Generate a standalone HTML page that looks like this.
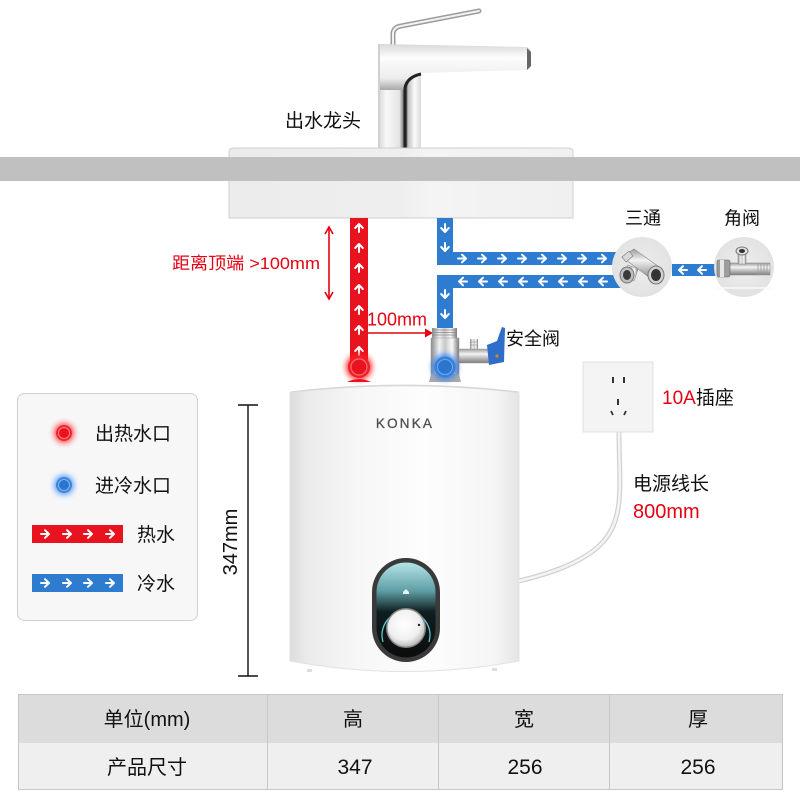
<!DOCTYPE html>
<html><head><meta charset="utf-8">
<style>
html,body{margin:0;padding:0;background:#fff;}
svg{display:block;}
text{font-family:"Liberation Sans","Noto Sans CJK SC",sans-serif;}
</style></head>
<body>
<svg width="800" height="800" viewBox="0 0 800 800" xmlns="http://www.w3.org/2000/svg">
<defs>
  <g id="ar"><path d="M-4,0 H3.5 M0,-3.8 L4,0 L0,3.8" stroke="#fff" stroke-width="2" fill="none" stroke-linecap="round" stroke-linejoin="round"/></g>
  <filter id="glow" x="-1" y="-1" width="3" height="3"><feGaussianBlur stdDeviation="3"/></filter>
  <linearGradient id="metalH" x1="0" x2="1" y1="0" y2="0">
    <stop offset="0" stop-color="#8a8a8a"/><stop offset=".3" stop-color="#f2f2f2"/><stop offset=".5" stop-color="#c8c8c8"/><stop offset=".75" stop-color="#fafafa"/><stop offset="1" stop-color="#7a7a7a"/>
  </linearGradient>
  <linearGradient id="metalV" x1="0" x2="0" y1="0" y2="1">
    <stop offset="0" stop-color="#9a9a9a"/><stop offset=".35" stop-color="#f4f4f4"/><stop offset=".6" stop-color="#c4c4c4"/><stop offset="1" stop-color="#7c7c7c"/>
  </linearGradient>
  <linearGradient id="colG" x1="0" x2="1" y1="0" y2="0">
    <stop offset="0" stop-color="#d5d5d5"/><stop offset=".2" stop-color="#f8f8f8"/><stop offset=".5" stop-color="#e4e4e4"/><stop offset=".58" stop-color="#8a8a8a"/><stop offset=".64" stop-color="#2a2a2a"/><stop offset=".7" stop-color="#c0c0c0"/><stop offset=".85" stop-color="#fbfbfb"/><stop offset="1" stop-color="#dadada"/>
  </linearGradient>
  <linearGradient id="spoutG" x1="0" x2="0" y1="0" y2="1">
    <stop offset="0" stop-color="#d8d8d8"/><stop offset=".3" stop-color="#fdfdfd"/><stop offset=".75" stop-color="#ececec"/><stop offset="1" stop-color="#a8a8a8"/>
  </linearGradient>
  <linearGradient id="heatG" x1="0" x2="1" y1="0" y2="0">
    <stop offset="0" stop-color="#dcdcdc"/><stop offset=".08" stop-color="#ebebeb"/><stop offset=".3" stop-color="#f7f7f7"/><stop offset=".6" stop-color="#fdfdfd"/><stop offset=".9" stop-color="#f5f5f5"/><stop offset="1" stop-color="#e4e4e4"/>
  </linearGradient>
  <linearGradient id="panelG" x1="0" x2="0" y1="0" y2="1">
    <stop offset="0" stop-color="#b4e4e8"/><stop offset=".3" stop-color="#5e9ea4"/><stop offset=".52" stop-color="#0f1e20"/><stop offset="1" stop-color="#0c0c0c"/>
  </linearGradient>
  <radialGradient id="knobG" cx=".45" cy=".4" r=".6">
    <stop offset="0" stop-color="#ffffff"/><stop offset=".7" stop-color="#f0f0f0"/><stop offset="1" stop-color="#bdbdbd"/>
  </radialGradient>
  <radialGradient id="circG" cx=".5" cy=".5" r=".5">
    <stop offset="0" stop-color="#eeeeee"/><stop offset="1" stop-color="#e2e2e2"/>
  </radialGradient>
  <linearGradient id="sinkG" x1="0" x2="1" y1="0" y2="0">
    <stop offset="0" stop-color="#ececec"/><stop offset=".5" stop-color="#eeeeee"/><stop offset=".58" stop-color="#f4f4f4"/><stop offset="1" stop-color="#f0f0f0"/>
  </linearGradient>
</defs>

<rect width="800" height="800" fill="#fff"/>

<!-- Faucet -->
<path d="M393,45 L393,33 Q394,27 401,26 L479,11" stroke="#9c9c9c" stroke-width="5" fill="none" stroke-linecap="round"/>
<path d="M393,45 L393,33 Q394,27 401,26 L479,11" stroke="#f2f2f2" stroke-width="2" fill="none" stroke-linecap="round"/>
<rect x="378" y="72" width="43" height="78" fill="url(#colG)"/>
<path d="M378,44 L527,47 Q531,48 531,52 L531,66 Q531,70 527,70 L421,73 Q410,74 406,82 L406,90 L378,90 Z" fill="url(#spoutG)"/>
<path d="M527,48 L531,52 L531,66 L527,70 Z" fill="#666"/>
<path d="M405,150 L405,88 Q407,77 421,74" stroke="#222" stroke-width="3" fill="none"/>
<rect x="378" y="44" width="2" height="106" fill="#d0d0d0"/>
<text x="285" y="127" font-size="19" fill="#111">出水龙头</text>

<!-- Sink & counter -->
<path d="M229,218 L229,152 Q229,148 234,148 L568,148 Q573,148 573,152 L573,218 Z" fill="url(#sinkG)" stroke="#cfcfcf" stroke-width="1"/>
<rect x="0" y="157" width="800" height="24" fill="#c0c0c0"/>

<!-- Red dimension arrow -->
<line x1="329" y1="228" x2="329" y2="298" stroke="#e60012" stroke-width="1.6"/>
<path d="M325,234 L329,227 L333,234 M325,292 L329,299 L333,292" stroke="#e60012" stroke-width="1.6" fill="none"/>
<text x="172" y="269" font-size="17" fill="#e60012" textLength="148" lengthAdjust="spacingAndGlyphs">距离顶端 &gt;100mm</text>

<!-- Red pipe -->
<rect x="350" y="218" width="18" height="146" fill="#e8131f"/>
<g>
<use href="#ar" transform="translate(359,228) rotate(-90)"/>
<use href="#ar" transform="translate(359,248) rotate(-90)"/>
<use href="#ar" transform="translate(359,268) rotate(-90)"/>
<use href="#ar" transform="translate(359,289) rotate(-90)"/>
<use href="#ar" transform="translate(359,310) rotate(-90)"/>
<use href="#ar" transform="translate(359,330) rotate(-90)"/>
<use href="#ar" transform="translate(359,351) rotate(-90)"/>
</g>

<!-- 100mm arrow -->
<line x1="368" y1="333" x2="426" y2="333" stroke="#e60012" stroke-width="1.6"/>
<path d="M425,328.5 L433,333 L425,337.5 Z" fill="#e60012"/>
<text x="367" y="325.5" font-size="18" fill="#e60012">100mm</text>

<!-- Blue pipes -->
<g fill="#2d7ccf">
<rect x="437" y="218" width="16" height="47"/>
<rect x="437" y="252" width="190" height="13"/>
<rect x="437" y="275" width="190" height="13"/>
<rect x="437" y="275" width="16" height="57"/>
<rect x="672" y="264" width="44" height="12"/>
</g>
<use href="#ar" transform="translate(445,228) rotate(90)"/>
<use href="#ar" transform="translate(445,247) rotate(90)"/>
<use href="#ar" transform="translate(445,294) rotate(90)"/>
<use href="#ar" transform="translate(445,314) rotate(90)"/>
<g>
<use href="#ar" transform="translate(462,258.5)"/>
<use href="#ar" transform="translate(482,258.5)"/>
<use href="#ar" transform="translate(502,258.5)"/>
<use href="#ar" transform="translate(522,258.5)"/>
<use href="#ar" transform="translate(542,258.5)"/>
<use href="#ar" transform="translate(562,258.5)"/>
<use href="#ar" transform="translate(582,258.5)"/>
<use href="#ar" transform="translate(602,258.5)"/>
<use href="#ar" transform="translate(463,281.5) rotate(180)"/>
<use href="#ar" transform="translate(483,281.5) rotate(180)"/>
<use href="#ar" transform="translate(503,281.5) rotate(180)"/>
<use href="#ar" transform="translate(523,281.5) rotate(180)"/>
<use href="#ar" transform="translate(543,281.5) rotate(180)"/>
<use href="#ar" transform="translate(563,281.5) rotate(180)"/>
<use href="#ar" transform="translate(583,281.5) rotate(180)"/>
<use href="#ar" transform="translate(603,281.5) rotate(180)"/>
<use href="#ar" transform="translate(683,270) rotate(180)"/>
<use href="#ar" transform="translate(702,270) rotate(180)"/>
</g>

<!-- Tee -->
<circle cx="642" cy="267" r="30" fill="url(#circG)"/>
<g transform="translate(642,267)">
  <path d="M-20,-10 L-8,-18 L20,2 L12,14 Z" fill="url(#metalV)" stroke="#8a8a8a" stroke-width=".6"/>
  <path d="M-20,-10 L-13,-16 L-9,-11 L-16,-5 Z" fill="#d8d8d8" stroke="#777" stroke-width=".6"/>
  <path d="M-14,-2 L-4,2 L-8,14 L-18,10 Z" fill="url(#metalH)" stroke="#888" stroke-width=".6"/>
  <ellipse cx="-15" cy="8" rx="7" ry="8" fill="#bdbdbd" stroke="#777" stroke-width="1"/>
  <ellipse cx="-15" cy="8" rx="4" ry="5" fill="#3a3a3a"/>
  <ellipse cx="14" cy="8" rx="8" ry="9" fill="#cfcfcf" stroke="#777" stroke-width="1"/>
  <ellipse cx="14" cy="8" rx="5" ry="6" fill="#333"/>
</g>
<text x="643" y="224.5" font-size="18" fill="#111" text-anchor="middle">三通</text>

<!-- Angle valve -->
<circle cx="744" cy="267" r="30" fill="url(#circG)"/>
<line x1="716" y1="288" x2="772" y2="288" stroke="#fafafa" stroke-width="1.5"/>
<g transform="translate(744,267)">
  <rect x="-20" y="-4" width="46" height="12" fill="url(#metalV)" stroke="#8a8a8a" stroke-width=".5"/>
  <rect x="-27" y="-7" width="13" height="17" rx="2" fill="#9d9d9d" stroke="#666" stroke-width=".6"/>
  <rect x="-24" y="-7" width="4" height="17" fill="#e6e6e6"/>
  <rect x="-6" y="-15" width="8" height="12" fill="url(#metalH)" stroke="#888" stroke-width=".5"/>
  <ellipse cx="-2" cy="-16" rx="6" ry="4" fill="#e0e0e0" stroke="#777" stroke-width="1"/>
  <ellipse cx="-2" cy="-16" rx="3" ry="2" fill="#333"/>
  <path d="M14,-3 V8 M17,-3 V8 M20,-3 V8 M23,-3 V8" stroke="#999" stroke-width=".8"/>
</g>
<text x="742" y="224.5" font-size="18" fill="#111" text-anchor="middle">角阀</text>

<!-- Heater body -->
<path d="M290,392 Q404,378 519,392 L519,661 Q404,682 290,661 Z" fill="url(#heatG)" stroke="#e2e2e2" stroke-width="1"/>
<path d="M292,392 Q404,379 517,392" stroke="#d8d8d8" stroke-width="1.5" fill="none"/>
<rect x="307" y="669" width="5" height="3" fill="#ddd"/>
<rect x="492" y="668" width="5" height="3" fill="#ddd"/>
<text x="405" y="428" font-size="13.5" fill="#505050" text-anchor="middle" letter-spacing="2.2" stroke="#505050" stroke-width=".3">KONKA</text>

<!-- control panel -->
<rect x="372" y="558" width="68" height="104" rx="34" fill="#3a3a3a"/>
<rect x="376.5" y="562.5" width="59" height="95" rx="29.5" fill="url(#panelG)"/>
<path d="M403,592 l3,-3 l3,3 v2 h-6 z" fill="#e8f4f4"/>
<path d="M383,642 A24,24 0 1 1 429,642" stroke="#5ec6ce" stroke-width="1.3" fill="none"/>
<circle cx="406" cy="628" r="20" fill="#888"/>
<circle cx="406" cy="628" r="18.5" fill="url(#knobG)"/>
<circle cx="419" cy="625" r="1.2" fill="#222"/>

<!-- Hot outlet -->
<circle cx="359" cy="367" r="13" fill="#ff1a1a" filter="url(#glow)" opacity=".9"/>
<path d="M347,382 Q359,376 371,382 Z" fill="#e8131f"/>
<circle cx="359" cy="367" r="11" fill="#f0202a"/>
<circle cx="359" cy="367" r="8" fill="#e8131f" stroke="#ff6a6a" stroke-width="1.2"/>

<!-- Safety valve -->
<rect x="432" y="328" width="25" height="10" fill="url(#metalH)"/>
<path d="M432,330 H457 M432,332.5 H457 M432,335 H457" stroke="#888" stroke-width=".7"/>
<rect x="470" y="339" width="8" height="11" fill="url(#metalH)"/>
<path d="M470,342 H478 M470,345 H478" stroke="#888" stroke-width=".6"/>
<rect x="457" y="349" width="33" height="14" fill="url(#metalV)" stroke="#999" stroke-width=".5"/>
<rect x="431" y="338" width="28" height="38" fill="url(#metalH)" stroke="#999" stroke-width=".5"/>
<path d="M429,382 L431,374 H459 L461,382 Z" fill="#aaa"/>
<path d="M487,345 L497,341 Q500,332 502,327 L505,328 L504,362 L489,365 Z" fill="#2e6ec9"/>
<circle cx="497" cy="356" r="1.6" fill="#c78a2a"/>
<circle cx="445" cy="367" r="13" fill="#2a7bff" filter="url(#glow)" opacity=".8"/>
<circle cx="445" cy="367" r="10.5" fill="#3581d8"/>
<circle cx="445" cy="367" r="7.5" fill="#2d74cc" stroke="#6aa8ee" stroke-width="1.1"/>
<text x="506" y="345" font-size="18" fill="#111">安全阀</text>

<!-- Socket & cable -->
<path d="M619,432 C619,485 626,520 600,545 C580,564 548,574 519,581" stroke="#d2d2d2" stroke-width="5" fill="none"/>
<path d="M619,432 C619,485 626,520 600,545 C580,564 548,574 519,581" stroke="#f4f4f4" stroke-width="2.5" fill="none"/>
<rect x="583" y="362" width="70" height="70" fill="#f4f4f4" stroke="#e0e0e0" stroke-width="1"/>
<rect x="612" y="377" width="2" height="6" fill="#333"/>
<rect x="623" y="377" width="2" height="6" fill="#333"/>
<rect x="617" y="399" width="2" height="6" fill="#333"/>
<path d="M611,411 l2,4 M626,411 l-2,4" stroke="#333" stroke-width="1.8"/>
<text x="662" y="404" font-size="19"><tspan fill="#e60012">10A</tspan><tspan fill="#111">插座</tspan></text>
<text x="633" y="490" font-size="19" fill="#111">电源线长</text>
<text x="633" y="518" font-size="20" fill="#e60012">800mm</text>

<!-- 347mm dimension -->
<line x1="248" y1="405" x2="248" y2="676" stroke="#111" stroke-width="1.4"/>
<line x1="238" y1="405" x2="258" y2="405" stroke="#111" stroke-width="1.4"/>
<line x1="238" y1="676" x2="258" y2="676" stroke="#111" stroke-width="1.4"/>
<text transform="translate(237,542) rotate(-90)" font-size="20" fill="#111" text-anchor="middle">347mm</text>

<!-- Legend -->
<rect x="17.5" y="393.5" width="180" height="227" rx="7" fill="#f7f7f7" stroke="#cfcfcf" stroke-width="1"/>
<circle cx="64" cy="433" r="10" fill="#ff2020" filter="url(#glow)" opacity=".8"/>
<circle cx="64" cy="433" r="8" fill="#f52530"/>
<circle cx="64" cy="433" r="5.5" fill="#e8131f" stroke="#ff8080" stroke-width="1"/>
<circle cx="64" cy="485" r="10" fill="#3a8aff" filter="url(#glow)" opacity=".8"/>
<circle cx="64" cy="485" r="8" fill="#3a86d8"/>
<circle cx="64" cy="485" r="5.5" fill="#2d74cc" stroke="#80b8f0" stroke-width="1"/>
<text x="95" y="440" font-size="19" fill="#111">出热水口</text>
<text x="95" y="492" font-size="19" fill="#111">进冷水口</text>
<rect x="32" y="525" width="91" height="18" fill="#e8131f"/>
<use href="#ar" transform="translate(45,534)"/>
<use href="#ar" transform="translate(67,534)"/>
<use href="#ar" transform="translate(88,534)"/>
<use href="#ar" transform="translate(110,534)"/>
<text x="137" y="541" font-size="19" fill="#111">热水</text>
<rect x="32" y="574" width="91" height="18" fill="#2d7ccf"/>
<use href="#ar" transform="translate(45,583)"/>
<use href="#ar" transform="translate(67,583)"/>
<use href="#ar" transform="translate(88,583)"/>
<use href="#ar" transform="translate(110,583)"/>
<text x="137" y="590" font-size="19" fill="#111">冷水</text>

<!-- Table -->
<rect x="18" y="694" width="765" height="49" fill="#dcdcdc"/>
<rect x="18" y="743" width="765" height="47" fill="#efefef"/>
<rect x="18.5" y="694.5" width="764" height="95" fill="none" stroke="#c6c6c6" stroke-width="1"/>
<line x1="267.5" y1="694" x2="267.5" y2="790" stroke="#c6c6c6" stroke-width="1"/>
<line x1="438.5" y1="694" x2="438.5" y2="790" stroke="#c6c6c6" stroke-width="1"/>
<line x1="609.5" y1="694" x2="609.5" y2="790" stroke="#c6c6c6" stroke-width="1"/>
<g font-size="20" fill="#111" text-anchor="middle">
<text x="147" y="726">单位(mm)</text>
<text x="353" y="726">高</text>
<text x="524" y="726">宽</text>
<text x="698" y="726">厚</text>
<text x="147" y="774">产品尺寸</text>
<text x="355" y="774" font-size="21">347</text>
<text x="525" y="774" font-size="21">256</text>
<text x="698" y="774" font-size="21">256</text>
</g>
</svg>
</body></html>
